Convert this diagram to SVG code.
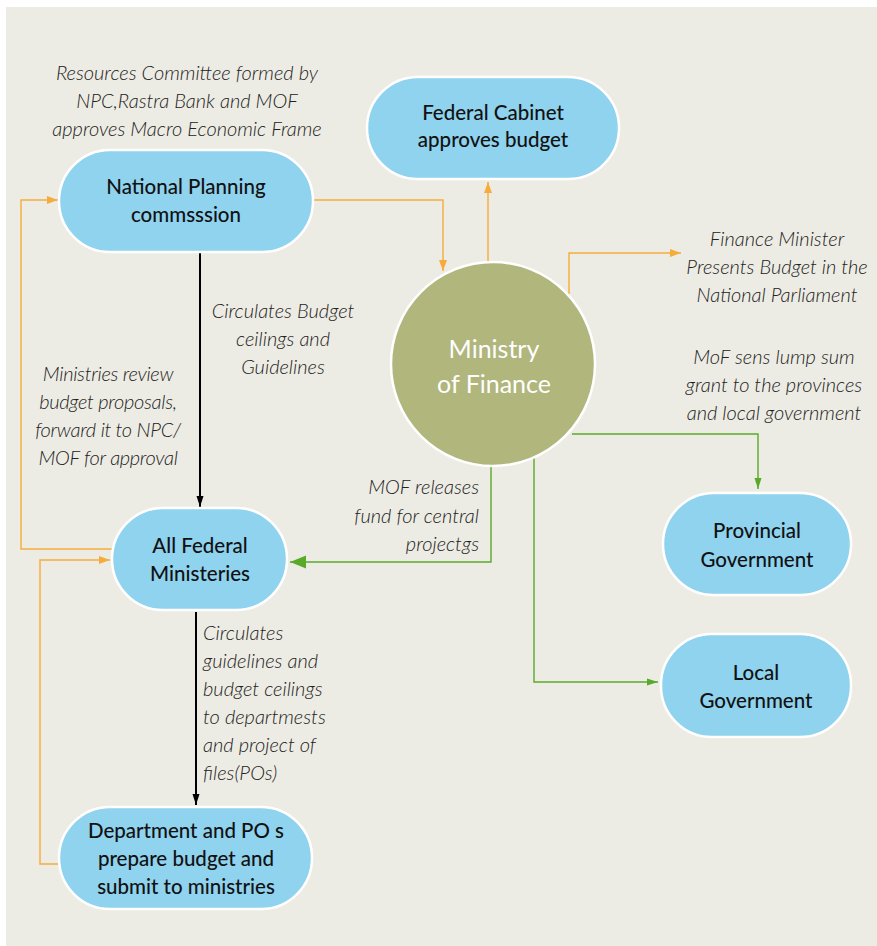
<svg xmlns="http://www.w3.org/2000/svg" width="877" height="946" viewBox="0 0 877 946">
<defs>
<style>
.node{fill:#8FD3EF;stroke:#FFFFFF;stroke-width:2.5}
.nt{font-family:Lato,"Open Sans","Liberation Sans",sans-serif;font-size:20.5px;font-weight:500;fill:#111111;text-anchor:middle}
.lb{font-family:Lato,"Open Sans","Liberation Sans",sans-serif;font-size:20px;font-weight:300;font-style:italic;fill:#222222;text-anchor:middle}
.or{fill:none;stroke:#F5AC3C;stroke-width:1.4}
.gr{fill:none;stroke:#5AAA2A;stroke-width:1.4}
.bk{fill:none;stroke:#000000;stroke-width:2}
</style>
<marker id="ao" markerUnits="userSpaceOnUse" markerWidth="12" markerHeight="10" refX="11" refY="5" orient="auto"><path d="M0,1 L11,5 L0,9 Z" fill="#F5AC3C"/></marker>
<marker id="ab" markerUnits="userSpaceOnUse" markerWidth="12" markerHeight="10" refX="11" refY="5" orient="auto"><path d="M0,1.5 L11,5 L0,8.5 Z" fill="#000000"/></marker>
<marker id="ag" markerUnits="userSpaceOnUse" markerWidth="12" markerHeight="10" refX="11" refY="5" orient="auto"><path d="M0,1.5 L11,5 L0,8.5 Z" fill="#5AAA2A"/></marker>
<marker id="agl" markerUnits="userSpaceOnUse" markerWidth="17" markerHeight="14" refX="16" refY="7" orient="auto"><path d="M0,0.5 L16,7 L0,13.5 Z" fill="#5AAA2A"/></marker>
</defs>
<rect x="6" y="7" width="871" height="939" fill="#EDECE4"/>

<g id="connectors">
<path class="or" d="M313,200 H443 V271" marker-end="url(#ao)"/>
<path class="or" d="M488,262 V182" marker-end="url(#ao)"/>
<path class="or" d="M569,294 V253 H681" marker-end="url(#ao)"/>
<path class="or" d="M112,549 H21 V200 H58" marker-end="url(#ao)"/>
<path class="or" d="M59,864 H40 V560 H110" marker-end="url(#ao)"/>
<path class="bk" d="M200,253 V507" marker-end="url(#ab)"/>
<path class="bk" d="M196,612 V805" marker-end="url(#ab)"/>
<path class="gr" d="M491,467 V562 H290" stroke-width="1.6" marker-end="url(#agl)"/>
<path class="gr" d="M572,434 H758 V489" marker-end="url(#ag)"/>
<path class="gr" d="M534,458 V682 H658" marker-end="url(#ag)"/>
</g>

<g id="labels">
<text class="lb" x="187" y="80">Resources Committee formed by</text>
<text class="lb" x="187" y="108">NPC,Rastra Bank and MOF</text>
<text class="lb" x="187" y="136">approves Macro Economic Frame</text>
<text class="lb" x="777" y="246">Finance Minister</text>
<text class="lb" x="777" y="274">Presents Budget in the</text>
<text class="lb" x="777" y="302">National Parliament</text>
<text class="lb" x="774" y="364">MoF sens lump sum</text>
<text class="lb" x="774" y="392">grant to the provinces</text>
<text class="lb" x="774" y="420">and local government</text>
<text class="lb" x="283" y="318">Circulates Budget</text>
<text class="lb" x="283" y="346">ceilings and</text>
<text class="lb" x="283" y="374">Guidelines</text>
<g letter-spacing="-0.3">
<text class="lb" x="108" y="381">Ministries review</text>
<text class="lb" x="108" y="409">budget proposals,</text>
<text class="lb" x="108" y="437">forward it to NPC/</text>
<text class="lb" x="108" y="465">MOF for approval</text>
</g>
<text class="lb" x="479" y="494" style="text-anchor:end">MOF releases</text>
<text class="lb" x="479" y="523" style="text-anchor:end">fund for central</text>
<text class="lb" x="479" y="551" style="text-anchor:end">projectgs</text>
<text class="lb" x="203" y="640" style="text-anchor:start">Circulates</text>
<text class="lb" x="203" y="668" style="text-anchor:start">guidelines and</text>
<text class="lb" x="203" y="696" style="text-anchor:start">budget ceilings</text>
<text class="lb" x="203" y="724" style="text-anchor:start">to departmests</text>
<text class="lb" x="203" y="752" style="text-anchor:start">and project of</text>
<text class="lb" x="203" y="780" style="text-anchor:start">files(POs)</text>
</g>

<g id="npc">
<rect class="node" x="59" y="150" width="254" height="102" rx="51"/>
<text class="nt" x="186" y="194">National Planning</text>
<text class="nt" x="186" y="222">commsssion</text>
</g>
<g id="cabinet">
<rect class="node" x="367" y="77" width="252" height="102" rx="51"/>
<text class="nt" x="493" y="120">Federal Cabinet</text>
<text class="nt" x="493" y="147">approves budget</text>
</g>
<g id="mof">
<circle cx="493" cy="364" r="102" fill="#B0B67C" stroke="#FFFFFF" stroke-width="2.5"/>
<text x="494" y="358" style="font-family:Lato,'Open Sans','Liberation Sans',sans-serif;font-size:25px;fill:#FFFFFF;text-anchor:middle">Ministry</text>
<text x="494" y="393" style="font-family:Lato,'Open Sans','Liberation Sans',sans-serif;font-size:25px;fill:#FFFFFF;text-anchor:middle">of Finance</text>
</g>
<g id="federal-ministries">
<rect class="node" x="112" y="508" width="175" height="102" rx="51"/>
<text class="nt" x="200" y="553">All Federal</text>
<text class="nt" x="200" y="581">Ministeries</text>
</g>
<g id="departments">
<rect class="node" x="59" y="807" width="253" height="102" rx="51"/>
<text class="nt" x="186" y="838">Department and PO s</text>
<text class="nt" x="186" y="866">prepare budget and</text>
<text class="nt" x="186" y="894">submit to ministries</text>
</g>
<g id="provincial">
<rect class="node" x="663" y="493" width="188" height="102" rx="51"/>
<text class="nt" x="757" y="538">Provincial</text>
<text class="nt" x="757" y="567">Government</text>
</g>
<g id="local">
<rect class="node" x="661" y="634" width="190" height="103" rx="51"/>
<text class="nt" x="756" y="680">Local</text>
<text class="nt" x="756" y="708">Government</text>
</g>
</svg>
